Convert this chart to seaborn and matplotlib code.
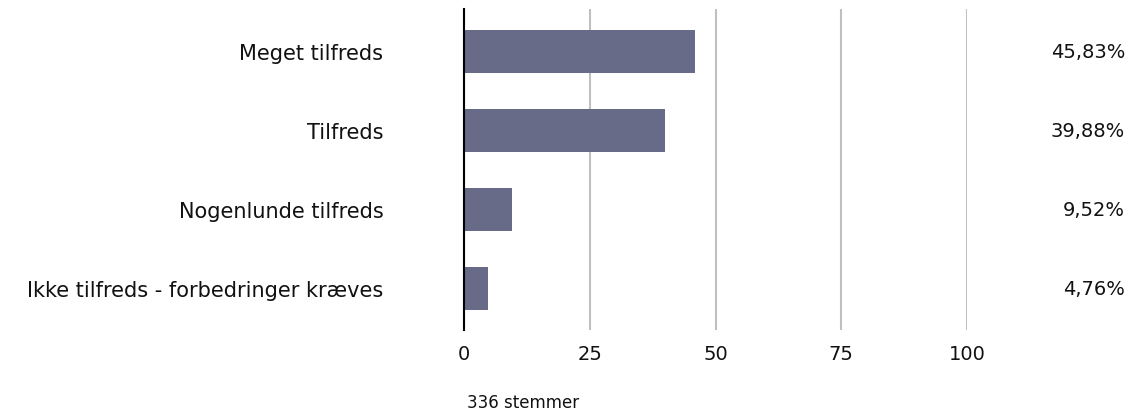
import pandas as pd
import seaborn as sns
import matplotlib.pyplot as plt
from matplotlib import transforms

categories = ["Meget tilfreds", "Tilfreds", "Nogenlunde tilfreds",
              "Ikke tilfreds - forbedringer kræves"]
percent = [45.83, 39.88, 9.52, 4.76]
labels = ["45,83%", "39,88%", "9,52%", "4,76%"]
x_ticks = [0, 25, 50, 75, 100]
votes_text = "336 stemmer"

df = pd.DataFrame({"category": categories, "percent": percent})

sns.set_style("white")
plt.rcParams['font.family'] = ['DejaVu Sans']

fig = plt.figure(figsize=(11.31, 4.14), dpi=100)
ax = fig.add_axes([464 / 1131, 1 - 331 / 414, (967 - 464) / 1131, (331 - 10) / 414])

sns.barplot(data=df, x="percent", y="category", color="#676b88",
            saturation=1, width=0.545, linewidth=0, ax=ax)

ax.set_xlim(0, 100)
ax.set_ylim(3.527, -0.537)
ax.set_xticks(x_ticks)
ax.xaxis.grid(True, color="#c0c0c0", linewidth=1.5)
ax.set_axisbelow(True)
for side in ["top", "right", "bottom"]:
    ax.spines[side].set_visible(False)
ax.spines["left"].set_color("black")
ax.spines["left"].set_linewidth(1.5)
ax.tick_params(axis="x", length=0, pad=10, labelsize=14, labelcolor="#111111")
ax.tick_params(axis="y", length=0, pad=58, labelsize=15, labelcolor="#111111")
ax.set_xlabel("")
ax.set_ylabel("")

# percentage labels on the far right
trans = transforms.blended_transform_factory(fig.transFigure, ax.transData)
for i, lab in enumerate(labels):
    ax.text(1125 / 1131, i, lab, transform=trans,
            ha="right", va="center", fontsize=14, color="#111111")

fig.text(467 / 1131, 1 - 403 / 414, votes_text, ha="left", va="center",
         fontsize=12, color="#111111")

plt.savefig("out.png", dpi=100)
plt.close()
